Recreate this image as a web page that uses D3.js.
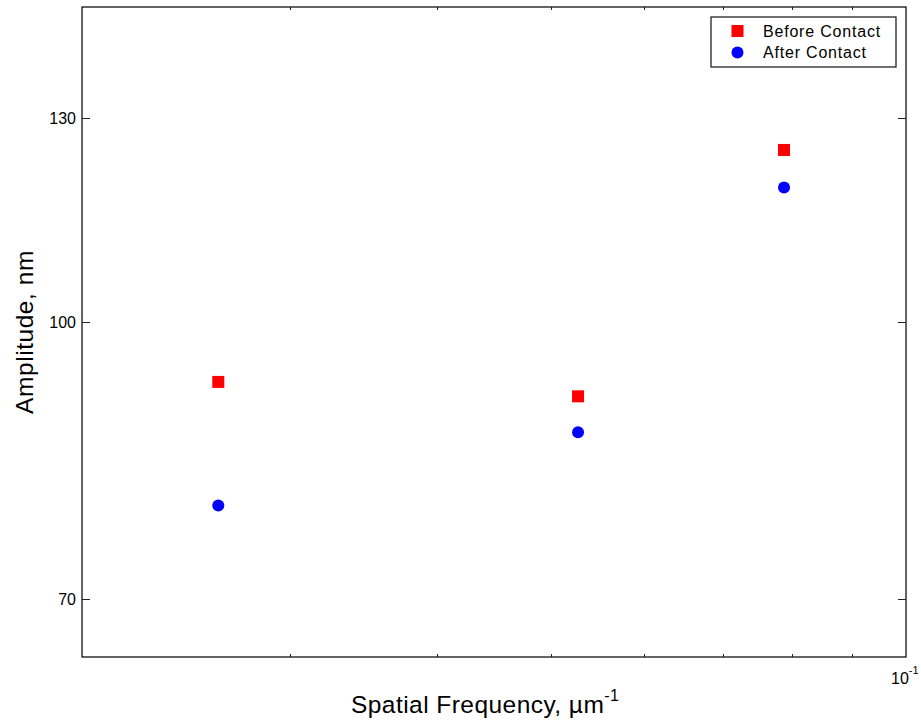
<!DOCTYPE html>
<html>
<head>
  <meta charset="utf-8">
  <style type="text/css">
    body {
      margin: 0;
      background-color: white;
    }
    svg {
      font-family: "Liberation Sans", Arial, sans-serif;
    }
    .axis path.domain {
      display: none;
    }
    .axis line {
      stroke: #222;
      shape-rendering: crispEdges;
    }
    .axis text {
      fill: #000;
      font-size: 16px;
    }
  </style>
  <script src="https://d3js.org/d3.v7.min.js"></script>
</head>
<body>
<script type="text/javascript">
  // values
  var frequency = [0.0261, 0.0527, 0.0788];          // µm^-1
  var before = [92.6, 90.9, 124.8];                  // nm, before contact
  var after = [79.0, 86.8, 118.9];                   // nm, after contact
  var xDomain = [0.02, 0.1];
  var yDomain = [65, 150];
  var xMinorTicks = [0.03, 0.04, 0.05, 0.06, 0.07, 0.08, 0.09];
  var yTicks = [70, 100, 130];
  var seriesNames = ["Before Contact", "After Contact"];

  var totalWidth = 921,
      totalHeight = 724,
      margin = {left: 82, top: 7, right: 15, bottom: 67},
      width = totalWidth - margin.left - margin.right,
      height = totalHeight - margin.top - margin.bottom;

  var svg = d3.select("body")
    .append("svg")
      .attr("width", totalWidth)
      .attr("height", totalHeight);

  var g = svg.append("g")
      .attr("transform", "translate(" + margin.left + "," + margin.top + ")");

  var x = d3.scaleLog().domain(xDomain).range([0, width]);
  var y = d3.scaleLog().domain(yDomain).range([height, 0]);

  // frame
  g.append("rect")
    .attr("x", 0)
    .attr("y", 0)
    .attr("width", width)
    .attr("height", height)
    .attr("fill", "none")
    .attr("stroke", "#111")
    .attr("stroke-width", 1.3);

  /*
    axes: ticks point inwards like matlab
  */
  g.append("g")
    .attr("class", "axis")
    .attr("transform", "translate(0," + height + ")")
    .call(d3.axisBottom(x).tickValues(xMinorTicks).tickSize(-3).tickFormat(""));

  g.append("g")
    .attr("class", "axis")
    .call(d3.axisTop(x).tickValues(xMinorTicks).tickSize(-3).tickFormat(""));

  g.append("g")
    .attr("class", "axis")
    .call(d3.axisLeft(y).tickValues(yTicks).tickSize(-8).tickPadding(6).tickFormat(d3.format("d")));

  g.append("g")
    .attr("class", "axis")
    .attr("transform", "translate(" + width + ",0)")
    .call(d3.axisRight(y).tickValues(yTicks).tickSize(-8).tickFormat(""));

  // 10^-1 label at the right end of x axis
  var decade = svg.append("text")
    .attr("x", margin.left + x(0.1) - 15)
    .attr("y", 683.5)
    .attr("font-size", "16px");
  decade.append("tspan").text("10");
  decade.append("tspan")
    .attr("dy", -10)
    .attr("font-size", "11px")
    .text("-1");

  // axis titles
  var xTitle = svg.append("text")
    .attr("x", 351)
    .attr("y", 713)
    .attr("font-size", "24.5px")
    .attr("letter-spacing", "0.45px");
  xTitle.append("tspan").text("Spatial Frequency, \u00b5m");
  xTitle.append("tspan")
    .attr("dy", -12)
    .attr("font-size", "16px")
    .text("-1");

  svg.append("text")
    .attr("transform", "translate(33,332) rotate(-90)")
    .attr("text-anchor", "middle")
    .attr("font-size", "24.5px")
    .attr("letter-spacing", "0.55px")
    .text("Amplitude, nm");

  /*
    points
  */
  var sq = 12, r = 6;

  g.selectAll("rect.before")
    .data(frequency)
    .enter()
    .append("rect")
      .attr("class", "before")
      .attr("x", function(d) { return x(d) - sq / 2; })
      .attr("y", function(d, i) { return y(before[i]) - sq / 2; })
      .attr("width", sq)
      .attr("height", sq)
      .attr("fill", "#ff0000");

  g.selectAll("circle.after")
    .data(frequency)
    .enter()
    .append("circle")
      .attr("class", "after")
      .attr("cx", function(d) { return x(d); })
      .attr("cy", function(d, i) { return y(after[i]); })
      .attr("r", r)
      .attr("fill", "#0000ff");

  /*
    legend
  */
  var legend = svg.append("g")
    .attr("transform", "translate(711,17)");

  legend.append("rect")
    .attr("width", 185)
    .attr("height", 50)
    .attr("fill", "white")
    .attr("stroke", "#111")
    .attr("stroke-width", 1.2);

  legend.append("rect")
    .attr("x", 26.5 - sq / 2)
    .attr("y", 14 - sq / 2)
    .attr("width", sq)
    .attr("height", sq)
    .attr("fill", "#ff0000");

  legend.append("circle")
    .attr("cx", 26.5)
    .attr("cy", 35.5)
    .attr("r", r)
    .attr("fill", "#0000ff");

  legend.selectAll("text.name")
    .data(seriesNames)
    .enter()
    .append("text")
      .attr("class", "name")
      .attr("x", 52)
      .attr("y", function(d, i) { return 19.5 + i * 21.5; })
      .attr("font-size", "16px")
      .attr("letter-spacing", "0.8px")
      .text(function(d) { return d; });
</script>
</body>
</html>
